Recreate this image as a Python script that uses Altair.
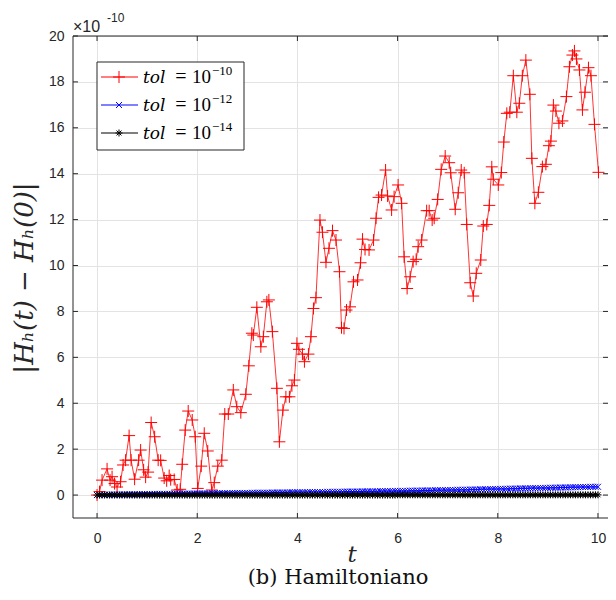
import altair as alt
import pandas as pd

# ---- data (values in units of 1e-10) ----
red_t = [0.00, 0.05, 0.10, 0.20, 0.26, 0.30, 0.35, 0.40, 0.47, 0.52, 0.57, 0.64, 0.68, 0.75, 0.83,
         0.87, 0.93, 0.97, 1.02, 1.08, 1.15, 1.22, 1.27, 1.34, 1.39, 1.44, 1.47, 1.54, 1.60, 1.66,
         1.70, 1.76, 1.82, 1.90, 1.96, 2.01, 2.08, 2.14, 2.21, 2.29, 2.34, 2.41, 2.49, 2.55, 2.62,
         2.72, 2.79, 2.87, 2.97, 3.03, 3.09, 3.12, 3.19, 3.27, 3.32, 3.39, 3.43, 3.50, 3.59, 3.64,
         3.71, 3.77, 3.84, 3.89, 3.94, 3.99, 4.03, 4.10, 4.14, 4.22, 4.27, 4.32, 4.37, 4.45, 4.50,
         4.57, 4.63, 4.70, 4.77, 4.84, 4.88, 4.93, 4.98, 5.05, 5.12, 5.20, 5.26, 5.30, 5.35, 5.43,
         5.52, 5.57, 5.62, 5.68, 5.76, 5.80, 5.88, 5.93, 6.01, 6.08, 6.13, 6.19, 6.25, 6.31, 6.37,
         6.41, 6.48, 6.58, 6.63, 6.69, 6.73, 6.80, 6.87, 6.95, 7.03, 7.06, 7.15, 7.21, 7.27, 7.33,
         7.38, 7.45, 7.51, 7.57, 7.66, 7.71, 7.78, 7.83, 7.88, 7.91, 8.01, 8.07, 8.12, 8.18, 8.24,
         8.31, 8.38, 8.43, 8.49, 8.56, 8.64, 8.68, 8.74, 8.81, 8.89, 8.96, 9.02, 9.06, 9.11, 9.16,
         9.22, 9.29, 9.37, 9.43, 9.49, 9.53, 9.57, 9.63, 9.69, 9.74, 9.81, 9.86, 9.93, 10.01]
red_v = [0.00, 0.15, 0.65, 1.14, 0.65, 0.80, 0.50, 0.35, 0.58, 1.31, 1.52, 2.59, 1.52, 0.69, 1.52,
         1.96, 1.10, 0.78, 1.00, 3.16, 2.54, 1.52, 1.51, 0.74, 0.62, 0.85, 0.67, 0.68, 0.22, 0.25,
         1.34, 2.83, 3.66, 3.27, 2.54, 0.29, 1.26, 2.69, 1.92, 0.22, 0.54, 1.26, 1.52, 3.53, 3.53,
         4.58, 3.85, 3.59, 4.39, 5.63, 7.05, 6.97, 8.18, 6.46, 6.90, 8.42, 8.50, 7.12, 4.65, 2.32,
         3.70, 4.28, 4.28, 4.76, 5.01, 6.61, 6.35, 6.14, 5.81, 6.14, 6.90, 8.13, 8.60, 11.98, 11.45,
         10.14, 10.75, 11.52, 11.11, 9.73, 7.29, 7.26, 8.06, 8.20, 9.29, 9.37, 10.12, 11.15, 10.70, 10.68,
         11.11, 12.06, 12.97, 13.07, 14.16, 13.03, 12.42, 13.00, 13.51, 12.71, 10.38, 9.00, 9.51, 10.17, 10.27,
         10.82, 11.11, 12.39, 12.39, 11.98, 12.06, 12.88, 14.19, 14.77, 14.48, 14.04, 12.45, 13.17, 14.16, 14.04,
         11.79, 9.25, 8.67, 9.66, 10.24, 11.72, 11.79, 12.62, 14.30, 13.76, 13.51, 14.05, 15.38, 16.63, 16.68,
         18.27, 16.68, 17.07, 18.27, 18.95, 17.46, 14.67, 12.71, 13.19, 14.31, 14.41, 15.22, 15.42, 16.99, 16.73,
         16.20, 16.30, 17.36, 18.66, 19.17, 19.35, 19.00, 18.52, 16.78, 17.55, 18.62, 18.27, 16.15, 14.06]

blue_v = [0.00, 0.00, 0.01, 0.01, 0.01, 0.01, 0.02, 0.02, 0.02, 0.02,
          0.02, 0.03, 0.03, 0.03, 0.03, 0.03, 0.03, 0.04, 0.04, 0.04,
          0.04, 0.04, 0.04, 0.05, 0.05, 0.05, 0.05, 0.05, 0.05, 0.05,
          0.05, 0.06, 0.06, 0.06, 0.06, 0.06, 0.06, 0.06, 0.06, 0.07,
          0.07, 0.07, 0.07, 0.07, 0.07, 0.07, 0.08, 0.08, 0.08, 0.08,
          0.08, 0.08, 0.08, 0.08, 0.09, 0.09, 0.09, 0.09, 0.09, 0.09,
          0.09, 0.09, 0.10, 0.10, 0.10, 0.10, 0.10, 0.10, 0.10, 0.10,
          0.11, 0.11, 0.11, 0.11, 0.11, 0.11, 0.11, 0.12, 0.12, 0.12,
          0.12, 0.12, 0.12, 0.12, 0.12, 0.13, 0.13, 0.13, 0.13, 0.13,
          0.13, 0.13, 0.14, 0.14, 0.14, 0.14, 0.14, 0.14, 0.14, 0.15,
          0.15, 0.15, 0.15, 0.15, 0.15, 0.15, 0.16, 0.16, 0.16, 0.16,
          0.16, 0.16, 0.16, 0.17, 0.17, 0.17, 0.17, 0.17, 0.17, 0.18,
          0.18, 0.18, 0.18, 0.18, 0.18, 0.19, 0.19, 0.19, 0.19, 0.19,
          0.20, 0.20, 0.20, 0.20, 0.20, 0.21, 0.21, 0.21, 0.21, 0.21,
          0.22, 0.22, 0.22, 0.22, 0.23, 0.23, 0.23, 0.23, 0.23, 0.24,
          0.24, 0.24, 0.24, 0.25, 0.25, 0.25, 0.25, 0.26, 0.26, 0.26,
          0.26, 0.27, 0.27, 0.27, 0.27, 0.28, 0.28, 0.28, 0.28, 0.29,
          0.29, 0.29, 0.29, 0.30, 0.30, 0.30, 0.30, 0.31, 0.31, 0.31,
          0.31, 0.32, 0.32, 0.32, 0.32, 0.33, 0.33, 0.33, 0.33, 0.34,
          0.34, 0.34, 0.34, 0.35, 0.35, 0.35, 0.35, 0.36, 0.36, 0.36,
          0.36]
blue_t = [round(i * 0.05, 2) for i in range(len(blue_v))]

black_v = [0.00, 0.00, 0.00, 0.00, 0.00, 0.00, 0.00, 0.00, 0.00, 0.00,
           0.00, 0.00, 0.00, 0.00, 0.00, 0.00, 0.00, 0.00, 0.00, 0.00,
           0.00, 0.00, 0.00, 0.00, 0.00, 0.00, 0.00, 0.00, 0.00, 0.00,
           0.00, 0.00, 0.00, 0.00, 0.00, 0.00, 0.00, 0.00, 0.00, 0.00,
           0.00, 0.00, 0.00, 0.00, 0.00, 0.00, 0.00, 0.00, 0.00, 0.00,
           0.00, 0.00, 0.00, 0.00, 0.00, 0.00, 0.00, 0.00, 0.00, 0.00,
           0.00, 0.00, 0.00, 0.00, 0.00, 0.00, 0.00, 0.00, 0.00, 0.00,
           0.00, 0.00, 0.00, 0.00, 0.00, 0.00, 0.00, 0.00, 0.00, 0.00,
           0.00, 0.00, 0.00, 0.00, 0.00, 0.00, 0.00, 0.00, 0.00, 0.00,
           0.00, 0.00, 0.00, 0.00, 0.00, 0.00, 0.00, 0.00, 0.00, 0.00,
           0.00, 0.00, 0.00, 0.00, 0.00, 0.00, 0.00, 0.00, 0.00, 0.00,
           0.00, 0.00, 0.00, 0.00, 0.00, 0.00, 0.00, 0.00, 0.00, 0.00,
           0.01, 0.01, 0.01, 0.01, 0.01, 0.01, 0.01, 0.01, 0.01, 0.01,
           0.01, 0.01, 0.01, 0.01, 0.01, 0.01, 0.01, 0.01, 0.01, 0.01,
           0.01, 0.01, 0.01, 0.01, 0.01, 0.01, 0.01, 0.01, 0.01, 0.01,
           0.01, 0.01, 0.01, 0.01, 0.01, 0.01, 0.01, 0.01, 0.01, 0.01,
           0.01, 0.01, 0.01, 0.01, 0.01, 0.01, 0.01, 0.01, 0.01, 0.01,
           0.01, 0.01, 0.01, 0.01, 0.01, 0.01, 0.01, 0.01, 0.01, 0.01,
           0.01, 0.01, 0.01, 0.01, 0.01, 0.01, 0.01, 0.01, 0.01, 0.01,
           0.01, 0.01, 0.01, 0.01, 0.01, 0.01, 0.01, 0.01, 0.01, 0.01,
           0.01]
black_t = [round(i * 0.05, 2) for i in range(len(black_v))]

xticks = [0, 2, 4, 6, 8, 10]
yticks = [0, 2, 4, 6, 8, 10, 12, 14, 16, 18, 20]

legend_exp = ["-10", "-12", "-14"]
legend_colors = ["#ff0000", "#0000ff", "#000000"]

# ---- layout ----
W, H = 535, 482
INK = "#262626"
SANS = "Liberation Sans"
SERIF = "Liberation Serif"
WSERIF = "DejaVu Serif"

PLUS = "M-1,0L1,0M0,-1L0,1"
XSH = "M-1,-1L1,1M-1,1L1,-1"
STAR = "M-1,0L1,0M0,-1L0,1M-0.7,-0.7L0.7,0.7M-0.7,0.7L0.7,-0.7"

xs = alt.Scale(domain=[-0.48, 10.2], nice=False, zero=False)
ys = alt.Scale(domain=[-1, 20], nice=False, zero=False)

x_axis = alt.Axis(values=xticks, grid=True, gridColor="#e3e3e3", gridWidth=1, ticks=False,
                  domain=False, labelFont=SANS, labelFontSize=14, labelColor=INK,
                  labelPadding=13, title=None)
y_axis = alt.Axis(values=yticks, grid=True, gridColor="#e3e3e3", gridWidth=1, ticks=False,
                  domain=False, labelFont=SANS, labelFontSize=14, labelColor=INK,
                  labelPadding=9, title=None)

X = alt.X("t:Q", scale=xs, axis=x_axis)
Y = alt.Y("v:Q", scale=ys, axis=y_axis)

df_red = pd.DataFrame({"t": red_t, "v": red_v})
df_blue = pd.DataFrame({"t": blue_t, "v": blue_v})
df_black = pd.DataFrame({"t": black_t, "v": black_v})
one = pd.DataFrame({"a": [0]})

layers = []
# series
layers.append(alt.Chart(df_red).mark_line(color="#ff0000", strokeWidth=1, opacity=0.8).encode(x=X, y=Y))
layers.append(alt.Chart(df_red).mark_point(shape=PLUS, filled=False, color="#ff0000", size=144,
                                           strokeWidth=1, opacity=1).encode(x=X, y=Y))
layers.append(alt.Chart(df_blue).mark_line(color="#0000ff", strokeWidth=1).encode(x=X, y=Y))
layers.append(alt.Chart(df_blue).mark_point(shape=XSH, filled=False, color="#0000ff", size=36,
                                            strokeWidth=1, opacity=1).encode(x=X, y=Y))
layers.append(alt.Chart(df_black).mark_line(color="#000000", strokeWidth=1).encode(x=X, y=Y))
layers.append(alt.Chart(df_black).mark_point(shape=STAR, filled=False, color="#000000", size=49,
                                             strokeWidth=1, opacity=1).encode(x=X, y=Y))

# frame (left, bottom, top) and inward ticks
layers.append(alt.Chart(one).mark_rule(color=INK, strokeWidth=1).encode(x=alt.value(0), y=alt.value(0), y2=alt.value(H)))
layers.append(alt.Chart(one).mark_rule(color=INK, strokeWidth=1).encode(y=alt.value(H), x=alt.value(0), x2=alt.value(W)))
layers.append(alt.Chart(one).mark_rule(color=INK, strokeWidth=1).encode(y=alt.value(0), x=alt.value(0), x2=alt.value(W)))
dfx = pd.DataFrame({"t": xticks})
dfy = pd.DataFrame({"v": yticks})
layers.append(alt.Chart(dfx).mark_rule(color=INK, strokeWidth=1).encode(x=X, y=alt.value(H - 5), y2=alt.value(H)))
layers.append(alt.Chart(dfx).mark_rule(color=INK, strokeWidth=1).encode(x=X, y=alt.value(0), y2=alt.value(5)))
layers.append(alt.Chart(dfy).mark_rule(color=INK, strokeWidth=1).encode(y=Y, x=alt.value(0), x2=alt.value(5)))
layers.append(alt.Chart(dfy).mark_rule(color=INK, strokeWidth=1).encode(y=Y, x=alt.value(W - 5), x2=alt.value(W)))

# legend box
layers.append(alt.Chart(one).mark_rect(fill="white", stroke=INK, strokeWidth=1).encode(
    x=alt.value(24), x2=alt.value(171), y=alt.value(26), y2=alt.value(114)))
shapes = [(PLUS, 144), (XSH, 36), (STAR, 49)]
for i, (col, ex, (shp, sz)) in enumerate(zip(legend_colors, legend_exp, shapes)):
    ry = 41 + 28 * i
    layers.append(alt.Chart(one).mark_rule(color=col, strokeWidth=1).encode(
        x=alt.value(28), x2=alt.value(65), y=alt.value(ry)))
    layers.append(alt.Chart(one).mark_point(shape=shp, filled=False, color=col, size=sz,
                                            strokeWidth=1, opacity=1).encode(
        x=alt.value(46), y=alt.value(ry)))
    layers.append(alt.Chart(one).mark_text(text="tol", font=WSERIF, fontStyle="italic", fontSize=17,
                                           align="left", baseline="alphabetic", color="#000").encode(
        x=alt.value(70), y=alt.value(ry + 6)))
    layers.append(alt.Chart(one).mark_text(text="=", font=SERIF, fontSize=20, align="center",
                                           baseline="alphabetic", color="#000").encode(
        x=alt.value(108), y=alt.value(ry + 6)))
    layers.append(alt.Chart(one).mark_text(text="10", font=SERIF, fontSize=19, align="left",
                                           baseline="alphabetic", color="#000").encode(
        x=alt.value(119), y=alt.value(ry + 6)))
    layers.append(alt.Chart(one).mark_text(text=ex.replace("-", "\u2212"), font=SERIF, fontSize=13,
                                           align="left", baseline="alphabetic", color="#000").encode(
        x=alt.value(139), y=alt.value(ry - 2)))

# exponent label
layers.append(alt.Chart(one).mark_text(text="\u00d710", font=SANS, fontSize=16, align="left",
                                       baseline="alphabetic", color=INK).encode(
    x=alt.value(0), y=alt.value(-4)))
layers.append(alt.Chart(one).mark_text(text="-10", font=SANS, fontSize=12, align="left",
                                       baseline="alphabetic", color=INK).encode(
    x=alt.value(34), y=alt.value(-14)))

# axis titles and caption
layers.append(alt.Chart(one).mark_text(text="|H\u2095(t) \u2212 H\u2095(0)|", font=WSERIF,
                                       fontStyle="italic", fontSize=26, angle=270, align="center",
                                       baseline="middle", color=INK).encode(
    x=alt.value(-48), y=alt.value(242)))
layers.append(alt.Chart(one).mark_text(text="t", font=WSERIF, fontStyle="italic", fontSize=23,
                                       align="center", baseline="alphabetic", color=INK).encode(
    x=alt.value(279), y=alt.value(526)))
layers.append(alt.Chart(one).mark_text(text="(b) Hamiltoniano", font=WSERIF, fontSize=21,
                                       align="center", baseline="alphabetic", color="#111").encode(
    x=alt.value(265), y=alt.value(548)))

chart = alt.layer(*layers).properties(
    width=W, height=H,
    autosize=alt.AutoSizeParams(type="none"),
    padding={"left": 65, "top": 28, "right": 0, "bottom": 72},
).configure_view(strokeWidth=0)

chart.save("out.html", embed_options={"renderer": "svg", "actions": False})
